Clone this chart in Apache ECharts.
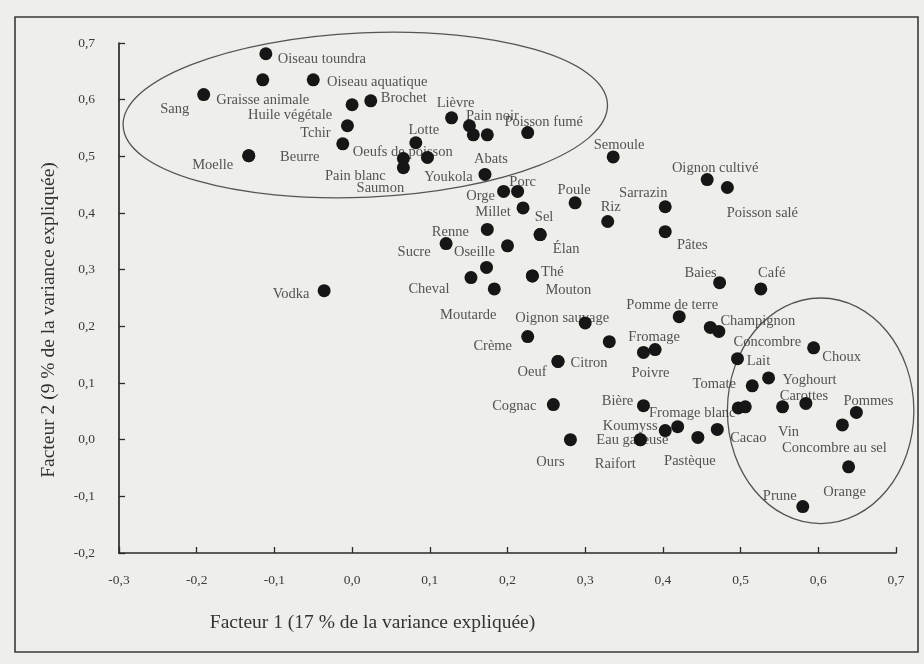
<!DOCTYPE html>
<html>
<head>
<meta charset="utf-8">
<script src="https://cdn.jsdelivr.net/npm/echarts@6/dist/echarts.min.js"></script>
<style>
html,body{margin:0;padding:0;background:#eeeeea;}
#chart{width:924px;height:664px;}
</style>
</head>
<body>
<div id="chart"></div>
<script>
// ---- Data ----
const foodNames = [
  'Oiseau toundra','Graisse animale','Oiseau aquatique','Sang','Huile végétale','Brochet','Tchir','Oeufs de poisson',
  'Moelle','Beurre','Pain blanc','Saumon','Lotte','Youkola','Lièvre','Pain noir','','',
  'Poisson fumé','Abats','Semoule','Oignon cultivé','Poisson salé','Orge','Porc','Millet',
  'Poule','Riz','Sarrazin','Pâtes','Renne','Sucre','Oseille','Sel','Élan','',
  'Cheval','Moutarde','Thé','Mouton','Vodka','Baies','Café','Pomme de terre','Oignon sauvage','',
  'Crème','Citron','Oeuf','Poivre','Fromage','Concombre','Champignon','Lait','Choux','Yoghourt',
  'Tomate','Vin','Carottes','Pommes','Concombre au sel','Orange','Prune','Fromage blanc','Cacao','Bière',
  'Koumyss','','Eau gazeuse','Raifort','Pastèque','','Ours','Cognac'
];
const factor1 = [
  -0.111,-0.115,-0.050,-0.191,0.000,0.024,-0.006,-0.012,
  -0.133,-0.133,0.066,0.066,0.082,0.097,0.128,0.151,0.156,0.174,
  0.226,0.171,0.336,0.457,0.483,0.195,0.213,0.220,
  0.287,0.329,0.403,0.403,0.174,0.121,0.200,0.242,0.242,0.173,
  0.153,0.183,0.232,0.232,-0.036,0.473,0.526,0.421,0.300,0.331,
  0.226,0.265,0.265,0.375,0.390,0.461,0.472,0.496,0.594,0.536,
  0.515,0.554,0.584,0.649,0.631,0.639,0.580,0.497,0.506,0.375,
  0.403,0.419,0.371,0.371,0.445,0.470,0.281,0.259
];
const factor2 = [
  0.681,0.635,0.635,0.609,0.591,0.598,0.554,0.522,
  0.501,0.501,0.496,0.480,0.524,0.498,0.568,0.554,0.538,0.538,
  0.542,0.468,0.499,0.459,0.445,0.438,0.438,0.409,
  0.418,0.385,0.411,0.367,0.371,0.346,0.342,0.362,0.362,0.304,
  0.286,0.266,0.289,0.289,0.263,0.277,0.266,0.217,0.206,0.173,
  0.182,0.138,0.138,0.154,0.159,0.198,0.191,0.143,0.162,0.109,
  0.095,0.058,0.064,0.048,0.026,-0.048,-0.118,0.056,0.058,0.060,
  0.016,0.023,0.000,0.000,0.004,0.018,0.000,0.062
];
const xTickLabels = ['-0,3','-0,2','-0,1','0,0','0,1','0,2','0,3','0,4','0,5','0,6','0,7'];
const yTickLabels = ['-0,2','-0,1','0,0','0,1','0,2','0,3','0,4','0,5','0,6','0,7'];
// Grouping ellipses (data space): centre x, centre y, radius x, radius y
const groupEllipses = [
  [0.017, 0.573, 0.312, 0.145],
  [0.603, 0.051, 0.120, 0.199]
];

// ---- Label placement (style, pixels relative to the dot) ----
const labelOffsets = {
  'Oiseau toundra':[56,5],'Graisse animale':[0,20],'Oiseau aquatique':[64,2],'Sang':[-29,15],
  'Huile végétale':[-62,10],'Brochet':[33,-3],'Tchir':[-32,7],'Oeufs de poisson':[60,8],
  'Moelle':[-36,9],'Beurre':[51,1],'Pain blanc':[-48,18],'Saumon':[-23,21],'Lotte':[8,-13],
  'Youkola':[21,20],'Lièvre':[4,-15],'Pain noir':[23,-10],'Poisson fumé':[16,-10],'Abats':[6,-15],
  'Semoule':[6,-12],'Oignon cultivé':[8,-11],'Poisson salé':[35,26],'Orge':[-23,5],'Porc':[5,-9],
  'Millet':[-30,4],'Poule':[-1,-13],'Riz':[3,-14],'Sarrazin':[-22,-14],'Pâtes':[27,13],
  'Renne':[-37,3],'Sucre':[-32,9],'Oseille':[-33,6],'Sel':[4,-17],'Élan':[26,15],
  'Cheval':[-42,12],'Moutarde':[-26,26],'Thé':[20,-4],'Mouton':[36,14],'Vodka':[-33,4],
  'Baies':[-19,-10],'Café':[11,-16],'Pomme de terre':[-7,-12],'Oignon sauvage':[-23,-5],
  'Crème':[-35,10],'Citron':[31,2],'Oeuf':[-26,11],'Poivre':[7,21],'Fromage':[-1,-12],
  'Concombre':[57,15],'Champignon':[39,-10],'Lait':[21,3],'Choux':[28,9],'Yoghourt':[41,2],
  'Tomate':[-38,-2],'Vin':[6,25],'Carottes':[-2,-7],'Pommes':[12,-11],'Concombre au sel':[-8,23],
  'Orange':[-4,25],'Prune':[-23,-10],'Fromage blanc':[-46,5],'Cacao':[3,31],'Bière':[-26,-4],
  'Koumyss':[-35,-4],'Eau gazeuse':[-8,1],'Raifort':[-25,25],'Pastèque':[-8,24],'Ours':[-20,23],
  'Cognac':[-39,2]
};

const FONT = '"Liberation Serif", "DejaVu Serif", serif';
const chart = echarts.init(document.getElementById('chart'));

const dotData = foodNames.map((n, i) => ({ name: n, value: [factor1[i], factor2[i]] }));
const labelData = foodNames.map((n, i) => ({
  name: n,
  value: [factor1[i], factor2[i]],
  label: { show: n !== '', offset: labelOffsets[n] || [0, 0] }
}));

function tickFmt(list, min) {
  return function (v) {
    const idx = Math.round((v - min) * 10);
    return list[idx] !== undefined ? list[idx] : '';
  };
}

chart.setOption({
  backgroundColor: '#eeeeea',
  animation: false,
  textStyle: { fontFamily: FONT },
  grid: { left: 119, right: 28, top: 43, bottom: 111 },
  xAxis: {
    type: 'value', min: -0.3, max: 0.7, interval: 0.1,
    splitLine: { show: false },
    axisLine: { onZero: false, lineStyle: { color: '#2a2a2a', width: 1.7 } },
    axisTick: { inside: true, length: 6, lineStyle: { color: '#2a2a2a', width: 1.3 } },
    axisLabel: { formatter: tickFmt(xTickLabels, -0.3), color: '#3a3a3a', fontSize: 13.5, margin: 20, fontFamily: FONT },
    name: 'Facteur 1 (17 % de la variance expliquée)',
    nameLocation: 'middle', nameGap: 60,
    nameTextStyle: { fontSize: 19.5, color: '#333', fontFamily: FONT, padding: [0, 270, 0, 0] }
  },
  yAxis: {
    type: 'value', min: -0.2, max: 0.7, interval: 0.1,
    splitLine: { show: false },
    axisLine: { onZero: false, lineStyle: { color: '#2a2a2a', width: 1.7 } },
    axisTick: { inside: true, length: 6, lineStyle: { color: '#2a2a2a', width: 1.3 } },
    axisLabel: { formatter: tickFmt(yTickLabels, -0.2), color: '#3a3a3a', fontSize: 13.5, margin: 24, fontFamily: FONT },
    name: 'Facteur 2 (9 % de la variance expliquée)',
    nameLocation: 'middle', nameGap: 60, nameRotate: 90,
    nameTextStyle: { fontSize: 19.5, color: '#333', fontFamily: FONT, padding: [0, 44, 0, 0] }
  },
  series: [
    {
      type: 'scatter', name: 'labels', z: 2,
      symbolSize: 1, itemStyle: { color: 'rgba(0,0,0,0)' },
      data: labelData,
      label: {
        show: true, position: 'inside', formatter: '{b}',
        color: '#2a2a2a', fontSize: 14.5, fontFamily: FONT,
        align: 'center', verticalAlign: 'middle'
      },
      emphasis: { disabled: true },
      silent: true
    },
    {
      type: 'scatter', name: 'aliments', z: 3,
      symbol: 'circle', symbolSize: 13,
      itemStyle: { color: '#161616', opacity: 1 },
      data: dotData,
      emphasis: { disabled: true },
      silent: true
    }
  ]
});

// Ellipses and frame drawn from data-space definitions
const graphics = [{
  type: 'rect', silent: true, z: 0,
  shape: { x: 15, y: 17, width: 903, height: 635 },
  style: { fill: 'none', stroke: '#3a3a3a', lineWidth: 1.6 }
}];
const rotations = [0.045, 0];
groupEllipses.forEach((e, i) => {
  const c = chart.convertToPixel({ gridIndex: 0 }, [e[0], e[1]]);
  const px = chart.convertToPixel({ gridIndex: 0 }, [e[0] + e[2], e[1] + e[3]]);
  graphics.push({
    type: 'ellipse', silent: true, z: 1,
    x: c[0], y: c[1], rotation: rotations[i],
    shape: { cx: 0, cy: 0, rx: Math.abs(px[0] - c[0]), ry: Math.abs(px[1] - c[1]) },
    style: { fill: 'none', stroke: '#555', lineWidth: 1.3 }
  });
});
chart.setOption({ graphic: graphics });
</script>
</body>
</html>
